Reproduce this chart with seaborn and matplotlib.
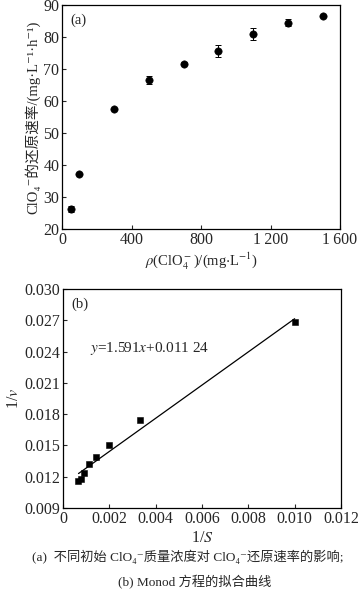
import numpy as np
import pandas as pd
import matplotlib
matplotlib.use('Agg')
import matplotlib.pyplot as plt
import seaborn as sns

sns.set_theme(style='ticks')
plt.rcParams['font.family'] = ['Liberation Serif', 'Noto Sans CJK SC', 'DejaVu Serif']
plt.rcParams['mathtext.fontset'] = 'stix'
plt.rcParams['xtick.direction'] = 'in'
plt.rcParams['ytick.direction'] = 'in'

# panel (a): initial ClO4- concentration vs reduction rate
conc = [50, 100, 300, 500, 700, 900, 1100, 1300, 1500]
rate = [26.3, 37.3, 57.4, 66.5, 71.7, 75.7, 81.0, 84.5, 86.6]
rate_err = [1.0, 0.3, 0.3, 1.2, 0.4, 1.8, 1.8, 1.2, 0.3]

# panel (b): Lineweaver-Burk (Monod) linearisation
inv_s = [0.000667, 0.000769, 0.000909, 0.00111, 0.00143, 0.0020, 0.00333, 0.0100]
inv_v = [0.01155, 0.01183, 0.01235, 0.0132, 0.0139, 0.0150, 0.0174, 0.0268]
slope, intercept = 1.591, 0.01124
fit_x = [0.00067, 0.0100]

df_a = pd.DataFrame({'conc': conc, 'rate': rate})
df_b = pd.DataFrame({'inv_s': inv_s, 'inv_v': inv_v})
df_fit = pd.DataFrame({'x': fit_x, 'y': [slope * v + intercept for v in fit_x]})

fig = plt.figure(figsize=(3.61, 5.91), dpi=100)
ax1 = fig.add_axes([0.172, 0.6125, 0.770, 0.379])
ax2 = fig.add_axes([0.1745, 0.1404, 0.770, 0.3706])
fs = 10.5
tfs = 11.5

# (a)
ax1.errorbar(conc, rate, yerr=rate_err, fmt='none', ecolor='black', elinewidth=0.7, capsize=2, capthick=0.7)
sns.scatterplot(data=df_a, x='conc', y='rate', ax=ax1, color='black', s=28, marker='o', edgecolor='black', zorder=3)
ax1.set_xlim(0, 1600)
ax1.set_ylim(20, 90)
ax1.set_xticks([0, 400, 800, 1200, 1600])
ax1.set_xticklabels(['0', '400', '800', '1\u2009200', '1\u2009600'])
ax1.set_yticks(range(20, 91, 10))
ax1.set_xlabel(r'$\rho$(ClO$_4^-$)/(mg$\cdot$L$^{-1}$)', fontsize=fs, labelpad=2)
ax1.set_ylabel('ClO\u2084\u207b的还原速率/(mg·L\u207b\u00b9·h\u207b\u00b9)', fontsize=fs, labelpad=2)
ax1.text(0.03, 0.96, '(a)', transform=ax1.transAxes, fontsize=fs, va='top', ha='left')

# (b)
sns.lineplot(data=df_fit, x='x', y='y', ax=ax2, color='black', linewidth=0.9)
sns.scatterplot(data=df_b, x='inv_s', y='inv_v', ax=ax2, color='black', s=22, marker='s', edgecolor='black', zorder=3)
ax2.set_xlim(0, 0.012)
ax2.set_ylim(0.009, 0.030)
ax2.set_xticks([0, 0.002, 0.004, 0.006, 0.008, 0.010, 0.012])
ax2.set_xticklabels(['0', '0.002', '0.004', '0.006', '0.008', '0.010', '0.012'])
ax2.set_yticks([0.009, 0.012, 0.015, 0.018, 0.021, 0.024, 0.027, 0.030])
ax2.set_yticklabels(['0.009', '0.012', '0.015', '0.018', '0.021', '0.024', '0.027', '0.030'])
ax2.set_xlabel(r'1/$S$', fontsize=fs + 1, labelpad=2)
ax2.set_ylabel(r'1/$v$', fontsize=fs + 1, labelpad=2)
ax2.text(0.03, 0.96, '(b)', transform=ax2.transAxes, fontsize=fs, va='top', ha='left')
ax2.text(0.00117, 0.0243, r'$y$=1.591$x$+0.011 24', fontsize=fs + 0.5, va='center', ha='left')

for ax in (ax1, ax2):
    ax.tick_params(labelsize=tfs, length=3, width=0.8, pad=2)
    for sp in ax.spines.values():
        sp.set_linewidth(0.9)
        sp.set_color('black')

fig.text(0.52, 1 - 557 / 591, '(a)  不同初始 ClO\u2084\u207b质量浓度对 ClO\u2084\u207b还原速率的影响;',
         fontsize=9.5, ha='center', va='center')
fig.text(0.54, 1 - 582 / 591, '(b) Monod 方程的拟合曲线', fontsize=9.5, ha='center', va='center')

fig.savefig('out.png', dpi=100)
